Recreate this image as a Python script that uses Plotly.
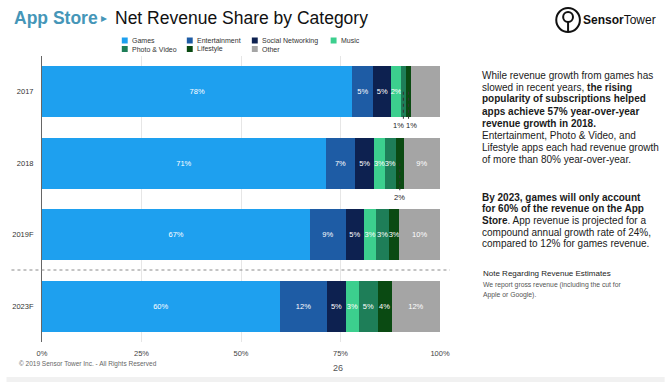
import plotly.graph_objects as go

# ---------------- data ----------------
years = ["2017", "2018", "2019F", "2023F"]
categories = ["Games", "Entertainment", "Social Networking", "Music",
              "Photo & Video", "Lifestyle", "Other"]
games = [78.0, 71.3, 67.4, 59.7]
entertainment = [5.2, 7.4, 8.9, 12.0]
social = [4.6, 4.8, 4.6, 4.6]
music = [2.4, 2.6, 3.1, 3.4]
photo = [1.2, 2.8, 3.2, 4.6]
lifestyle = [1.4, 2.0, 2.6, 3.6]
other = [7.2, 9.1, 10.2, 12.1]
x_tickvals = [0, 25, 50, 75, 100]
x_ticktext = ["0%", "25%", "50%", "75%", "100%"]

series = [games, entertainment, social, music, photo, lifestyle, other]
colors = ["#1ea0ef", "#1e5ca5", "#0d2150", "#3ccf8e", "#1e7e58", "#0a4a12", "#a5a5a5"]

FONT = "Liberation Sans, Arial, Helvetica, sans-serif"
W, H = 668, 382
L, R, T, B = 36, 440, 56, 342
OUTSIDE_LIMIT = 2.2


def px(xp):
    return (xp - L) / (R - L)


def py(yp):
    return (B - yp) / (B - T)


fig = go.Figure()

for name, vals, col in zip(categories, series, colors):
    labels = ["" if v < OUTSIDE_LIMIT else f"{v:.0f}%" for v in vals]
    fig.add_trace(go.Bar(
        y=years, x=vals, name=name, orientation="h",
        marker=dict(color=col, line=dict(width=0)),
        text=labels, textposition="inside", insidetextanchor="middle",
        textangle=0,
        textfont=dict(color="white", size=7.5, family=FONT),
        constraintext="none", cliponaxis=False,
        width=0.715, showlegend=False, hoverinfo="skip",
    ))

shapes = []
annotations = []

# outside labels for very small segments
for yi, yr in enumerate(years):
    cum = 0.0
    outs = []
    for vals in series:
        v = vals[yi]
        if v < OUTSIDE_LIMIT:
            outs.append((cum + v / 2, v))
        cum += v
    for k, (xm, v) in enumerate(outs):
        shift = 0
        if len(outs) > 1:
            shift = -5 if k == 0 else 3
        shapes.append(dict(type="line", xref="x", yref="y", x0=xm, x1=xm,
                           y0=yi, y1=yi + 0.41, layer="above",
                           line=dict(color="#333333", width=1, dash="dot")))
        annotations.append(dict(x=xm, y=yi + 0.475, xref="x", yref="y",
                                text=f"{v:.0f}%", showarrow=False, xshift=shift,
                                font=dict(size=7.5, color="#222222", family=FONT),
                                xanchor="center", yanchor="middle"))

# dashed separator between actual and long-range forecast
shapes.append(dict(type="line", xref="paper", yref="paper",
                   x0=px(5), x1=px(450), y0=py(270), y1=py(270),
                   line=dict(color="#8a8a8a", width=1, dash="dot")))

# custom legend (two rows, four columns)
leg_cols = [117, 183, 249, 329]
leg_rows = [40.5, 49]
for i, (name, col) in enumerate(zip(categories, colors)):
    r, c = divmod(i, 4)
    x0 = leg_cols[c]
    yc = leg_rows[r]
    shapes.append(dict(type="rect", xref="paper", yref="paper",
                       x0=px(x0), x1=px(x0 + 6), y0=py(yc + 3), y1=py(yc - 3),
                       fillcolor=col, line=dict(width=0)))
    annotations.append(dict(x=px(x0 + 9), y=py(yc), xref="paper", yref="paper",
                            text=name, showarrow=False, xanchor="left", yanchor="middle",
                            borderpad=0,
                            font=dict(size=7, color="#333333", family=FONT)))

# title
annotations.append(dict(x=px(7), y=py(18), xref="paper", yref="paper",
                        text="<b>App Store</b>", showarrow=False, xanchor="left",
                        yanchor="middle", borderpad=0,
                        font=dict(size=17.5, color="#4596b8", family=FONT)))
annotations.append(dict(x=px(99), y=py(18), xref="paper", yref="paper",
                        text="▸", showarrow=False, xanchor="center", borderpad=0,
                        yanchor="middle", font=dict(size=12, color="#4596b8", family="DejaVu Sans")))
annotations.append(dict(x=px(109), y=py(18), xref="paper", yref="paper",
                        text="Net Revenue Share by Category", showarrow=False, xanchor="left",
                        yanchor="middle", borderpad=0,
                        font=dict(size=17.5, color="#111111", family=FONT)))

# logo
shapes.append(dict(type="circle", xref="paper", yref="paper",
                   x0=px(558), x1=px(582), y0=py(32), y1=py(8),
                   line=dict(color="#111111", width=2)))
shapes.append(dict(type="circle", xref="paper", yref="paper",
                   x0=px(565), x1=px(575), y0=py(22), y1=py(12),
                   line=dict(color="#111111", width=2)))
shapes.append(dict(type="line", xref="paper", yref="paper",
                   x0=px(570), x1=px(570), y0=py(22), y1=py(31.5),
                   line=dict(color="#111111", width=2)))
annotations.append(dict(x=px(584), y=py(20), xref="paper", yref="paper",
                        text="<b>Sensor</b>Tower", showarrow=False, xanchor="left",
                        yanchor="middle", borderpad=0,
                        font=dict(size=12, color="#111111", family=FONT)))

# commentary text
para_lines = [
    ("While revenue growth from games has", 75),
    ("slowed in recent years, <b>the rising</b>", 87),
    ("<b>popularity of subscriptions helped</b>", 99),
    ("<b>apps achieve 57% year-over-year</b>", 111),
    ("<b>revenue growth in 2018.</b>", 123),
    ("Entertainment, Photo & Video, and", 135.5),
    ("Lifestyle apps each had revenue growth", 147.5),
    ("of more than 80% year-over-year.", 159),
    ("<b>By 2023, games will only account</b>", 197),
    ("<b>for 60% of the revenue on the App</b>", 208.5),
    ("<b>Store</b>. App revenue is projected for a", 220),
    ("compound annual growth rate of 24%,", 232),
    ("compared to 12% for games revenue.", 243.5),
]
for txt, yp in para_lines:
    annotations.append(dict(x=px(482), y=py(yp), xref="paper", yref="paper",
                            text=txt, showarrow=False, xanchor="left", yanchor="middle",
                            borderpad=0,
                            font=dict(size=10, color="#1a1a1a", family=FONT)))

annotations.append(dict(x=px(483), y=py(273), xref="paper", yref="paper",
                        text="Note Regarding Revenue Estimates", showarrow=False,
                        xanchor="left", yanchor="middle", borderpad=0,
                        font=dict(size=8, color="#222222", family=FONT)))
for txt, yp in [("We report gross revenue (including the cut for", 285),
                ("Apple or Google).", 295)]:
    annotations.append(dict(x=px(483), y=py(yp), xref="paper", yref="paper",
                            text=txt, showarrow=False, xanchor="left", yanchor="middle",
                            borderpad=0,
                            font=dict(size=6.8, color="#555555", family=FONT)))

# footer
annotations.append(dict(x=px(12), y=py(364), xref="paper", yref="paper",
                        text="© 2019 Sensor Tower Inc. - All Rights Reserved", showarrow=False,
                        xanchor="left", yanchor="middle", borderpad=0,
                        font=dict(size=6.5, color="#666666", family=FONT)))
annotations.append(dict(x=px(336), y=py(368), xref="paper", yref="paper",
                        text="26", showarrow=False, xanchor="center", yanchor="middle",
                        font=dict(size=9, color="#555555", family=FONT)))
shapes.append(dict(type="rect", xref="paper", yref="paper",
                   x0=px(0), x1=px(W), y0=py(H), y1=py(377),
                   fillcolor="#f1f1f1", line=dict(width=0), layer="below"))

fig.update_layout(
    width=W, height=H,
    margin=dict(l=L, r=W - R, t=T, b=H - B, pad=0),
    barmode="stack",
    paper_bgcolor="white", plot_bgcolor="white",
    font=dict(family=FONT, size=8, color="#333333"),
    showlegend=False,
    uniformtext=dict(minsize=7.5, mode="show"),
    shapes=shapes, annotations=annotations,
    xaxis=dict(range=[0, 100], tickvals=x_tickvals, ticktext=x_ticktext,
               showgrid=True, gridcolor="#e6e6e6", gridwidth=1,
               zeroline=False, showline=False, ticks="",
               ticklabelstandoff=5, tickfont=dict(size=7.5, color="#444444")),
    yaxis=dict(type="category", categoryorder="array", categoryarray=years,
               range=[3.5, -0.5], showgrid=False, zeroline=False,
               showline=True, linecolor="#666666", linewidth=1, ticks="",
               ticklabelstandoff=6, tickfont=dict(size=7.5, color="#333333")),
)

fig.write_html("out.html", config={"displayModeBar": False},
               post_script="document.body.style.margin='0px';document.body.style.padding='0px';")
